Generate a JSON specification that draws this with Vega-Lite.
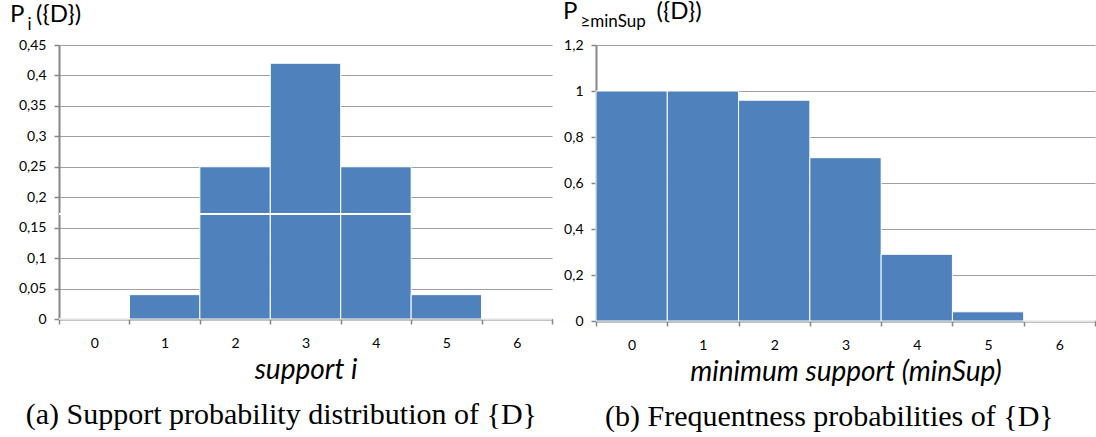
{
  "$schema": "https://vega.github.io/schema/vega-lite/v6.json",
  "background": "white",
  "padding": {"left": 10, "top": 0, "right": 0, "bottom": 0},
  "spacing": 10,
  "config": {
    "view": {"stroke": null},
    "font": "Lato",
    "axis": {
      "labelFont": "Lato",
      "labelFontSize": 14,
      "labelColor": "#000000",
      "titleFont": "Lato",
      "titleFontSize": 28,
      "titleFontStyle": "italic",
      "titleFontWeight": "normal",
      "titleColor": "#000000",
      "domainColor": "#868686",
      "domainWidth": 2,
      "tickColor": "#868686",
      "tickWidth": 1.5,
      "tickSize": 5,
      "gridColor": "#a0a0a0",
      "gridWidth": 1.2
    },
    "axisX": {"grid": false, "tickBand": "extent", "labelAngle": 0, "labelPadding": 12, "titlePadding": 6},
    "axisY": {"grid": true, "title": null, "labelPadding": 8, "format": "~g", "labelExpr": "replace(datum.label, '.', ',')"},
    "title": {"font": "Lato", "color": "#000000", "fontWeight": "normal"}
  },
  "datasets": {
    "support": [
      {"i": "0", "p": 0},
      {"i": "1", "p": 0.04},
      {"i": "2", "p": 0.25},
      {"i": "3", "p": 0.42},
      {"i": "4", "p": 0.25},
      {"i": "5", "p": 0.04},
      {"i": "6", "p": 0}
    ],
    "frequent": [
      {"minSup": "0", "p": 1},
      {"minSup": "1", "p": 1},
      {"minSup": "2", "p": 0.96},
      {"minSup": "3", "p": 0.71},
      {"minSup": "4", "p": 0.29},
      {"minSup": "5", "p": 0.04},
      {"minSup": "6", "p": 0}
    ]
  },
  "hconcat": [
    {
      "title": {"text": "(a) Support probability distribution of {D}", "orient": "bottom", "anchor": "middle", "font": "Liberation Serif", "fontSize": 30, "offset": 16},
      "vconcat": [
        {
          "width": 493,
          "height": 274,
          "title": {
            "text": "P\u00a0\u00a0({D})",
            "subtitle": "\u200b\u00a0\u00a0\u00a0\u00a0i",
            "anchor": "start",
            "frame": "group",
            "dx": -49,
            "fontSize": 24,
            "subtitleFont": "Lato",
            "subtitleFontSize": 17,
            "subtitleColor": "#000000",
            "subtitlePadding": -10,
            "offset": 5
          },
          "data": {"name": "support"},
          "layer": [
            {
              "mark": {"type": "bar", "fill": "#4f81bd", "stroke": "#ffffff", "strokeWidth": 1},
              "encoding": {
                "x": {"field": "i", "type": "ordinal", "sort": null, "scale": {"paddingInner": 0, "paddingOuter": 0}, "axis": {"title": "support i"}},
                "y": {"field": "p", "type": "quantitative", "scale": {"domain": [0, 0.45], "nice": false}, "axis": {"values": [0, 0.05, 0.1, 0.15, 0.2, 0.25, 0.3, 0.35, 0.4, 0.45]}}
              }
            },
            {
              "mark": {"type": "rule", "color": "#ffffff", "strokeWidth": 1.5},
              "encoding": {"y": {"datum": 0.172, "type": "quantitative", "axis": {"values": [0, 0.05, 0.1, 0.15, 0.2, 0.25, 0.3, 0.35, 0.4, 0.45]}}}
            }
          ]
        }
      ]
    },
    {
      "title": {"text": "(b) Frequentness probabilities of {D}", "orient": "bottom", "anchor": "middle", "font": "Liberation Serif", "fontSize": 30, "offset": 16},
      "vconcat": [
        {
          "width": 499,
          "height": 276,
          "title": {
            "text": "P\u00a0\u00a0\u00a0\u00a0\u00a0\u00a0\u00a0\u00a0\u00a0\u00a0\u00a0\u00a0\u00a0({D})",
            "subtitle": "\u200b\u00a0\u00a0\u00a0\u00a0≥minSup",
            "anchor": "start",
            "frame": "group",
            "dx": -33,
            "fontSize": 24,
            "subtitleFont": "Lato",
            "subtitleFontSize": 17,
            "subtitleColor": "#000000",
            "subtitlePadding": -10,
            "offset": 8
          },
          "data": {"name": "frequent"},
          "mark": {"type": "bar", "fill": "#4f81bd", "stroke": "#ffffff", "strokeWidth": 1},
          "encoding": {
            "x": {"field": "minSup", "type": "ordinal", "sort": null, "scale": {"paddingInner": 0, "paddingOuter": 0}, "axis": {"title": "minimum support (minSup)"}},
            "y": {"field": "p", "type": "quantitative", "scale": {"domain": [0, 1.2], "nice": false}, "axis": {"values": [0, 0.2, 0.4, 0.6, 0.8, 1, 1.2]}}
          }
        }
      ]
    }
  ]
}
